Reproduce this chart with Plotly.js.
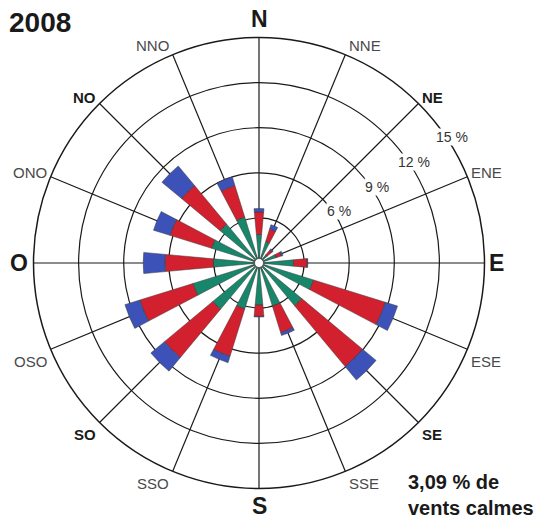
<!DOCTYPE html>
<html>
<head>
<meta charset="utf-8">
<script src="https://cdn.plot.ly/plotly-3.0.1.min.js"></script>
<style>html,body{margin:0;padding:0;background:#fff;}#chart{width:545px;height:521px;}</style>
</head>
<body>
<div id="chart"></div>
<script>
// ---- data (percent of time, per wind direction, stacked by speed class) ----
const directions = ['N','NNE','NE','ENE','E','ESE','SE','SSE','S','SSO','SO','OSO','O','ONO','NO','NNO'];
const greenVals = [1.9, 1.5, 0.7, 1.2, 2.3, 3.8, 3.7, 3.0, 2.8, 3.2, 4.0, 4.6, 3.04, 3.3, 3.36, 3.2];
const redVals   = [1.5, 0.87, 0.43, 0.35, 0.9, 5.0, 5.26, 1.85, 0.75, 3.3, 4.18, 3.7, 3.21, 2.9, 3.34, 2.2];
const blueVals  = [0.23, 0.3, 0.1, 0.12, 0.05, 0.85, 1.17, 0.2, 0.05, 0.44, 1.18, 1.04, 1.45, 1.15, 1.7, 0.6];
const ringValues = [3, 6, 9, 12, 15];
const ringLabels = ['', '6 %', '9 %', '12 %', '15 %'];
const yearLabel = '2008';
const calmText = '3,09 % de<br>vents calmes';
const cardinal = ['N','E','S','O'];
const intercardinal = ['NE','SE','SO','NO'];

// ---- geometry ----
const W = 545, H = 521;
const CX = 259, CY = 263, R = 225.5, RMAX = 15;
const step = 360 / directions.length;
const theta = directions.map((d, i) => i * step);
const FONT = 'Liberation Sans, Arial, sans-serif';

function trace(vals, color, name) {
  return {
    type: 'barpolar', name: name, r: vals, theta: theta, width: 10.5,
    marker: {color: color, line: {color: '#3a3a3a', width: 0.5}},
    hoverinfo: 'skip'
  };
}
const data = [
  trace(greenVals, '#17866b', 'g'),
  trace(redVals, '#d2202e', 'r'),
  trace(blueVals, '#3c52b8', 'b')
];

const px = x => x / W, py = y => 1 - y / H;
const annotations = [];
// direction labels
directions.forEach((d, i) => {
  const a = theta[i] * Math.PI / 180;
  const s = Math.sin(a), c = Math.cos(a);
  const ex = CX + R * s, ey = CY - R * c;
  const isCard = cardinal.includes(d), isInter = intercardinal.includes(d);
  const gap = isCard ? 4 : 2;
  let xa = 'center', ya = 'middle', xs = 0, ys = 0;
  if (s > 0.01) { xa = 'left'; xs = isCard ? 2 : gap; } else if (s < -0.01) { xa = 'right'; xs = -gap; }
  if (c > 0.01) { ya = 'bottom'; ys = isCard ? gap : 2 - 9 * Math.abs(s); }
  else if (c < -0.01) { ya = 'top'; ys = isCard ? -2 : -gap; }
  annotations.push({
    xref: 'paper', yref: 'paper', x: px(ex), y: py(ey), xanchor: xa, yanchor: ya,
    xshift: xs, yshift: ys, showarrow: false,
    text: (isCard || isInter) ? '<b>' + d + '</b>' : d,
    font: {family: FONT, size: isCard ? 23 : 15, color: (isCard || isInter) ? '#1a1a1a' : '#4a4a4a'}
  });
});
// ring labels
const labAng = 57 * Math.PI / 180;
ringValues.forEach((v, i) => {
  if (!ringLabels[i]) return;
  const rr = v * R / RMAX + 5;
  annotations.push({
    xref: 'paper', yref: 'paper', x: px(CX + rr * Math.sin(labAng)), y: py(CY - rr * Math.cos(labAng)),
    xanchor: 'center', yanchor: 'middle', showarrow: false, text: ringLabels[i],
    bgcolor: '#ffffff', borderpad: 0,
    font: {family: FONT, size: 14, color: '#333333'}
  });
});
annotations.push({
  xref: 'paper', yref: 'paper', x: px(7), y: py(22.5), xanchor: 'left', yanchor: 'middle',
  showarrow: false, text: '<b>' + yearLabel + '</b>', font: {family: FONT, size: 28, color: '#1a1a1a'}
});
annotations.push({
  xref: 'paper', yref: 'paper', x: px(406), y: py(495), xanchor: 'left', yanchor: 'middle', align: 'left',
  showarrow: false, text: '<b>' + calmText + '</b>', font: {family: FONT, size: 20, color: '#1a1a1a'}
});

const layout = {
  width: W, height: H, margin: {l: 0, r: 0, t: 0, b: 0},
  paper_bgcolor: '#ffffff', showlegend: false,
  polar: {
    domain: {x: [px(CX - R), px(CX + R)], y: [py(CY + R), py(CY - R)]},
    bgcolor: '#ffffff', barmode: 'stack', hole: 0,
    angularaxis: {
      rotation: 90, direction: 'clockwise', tickmode: 'linear', tick0: 0, dtick: step,
      showticklabels: false, ticks: '', showgrid: true, gridcolor: '#1a1a1a', gridwidth: 1.2,
      showline: true, linecolor: '#1a1a1a', linewidth: 1.5, layer: 'below traces'
    },
    radialaxis: {
      range: [0, RMAX], tickvals: ringValues, showticklabels: false, ticks: '',
      showgrid: true, gridcolor: '#1a1a1a', gridwidth: 1.2, showline: false, layer: 'below traces'
    }
  },
  shapes: [{
    type: 'circle', xref: 'paper', yref: 'paper',
    x0: px(CX - 4.5), x1: px(CX + 4.5), y0: py(CY + 4.5), y1: py(CY - 4.5),
    fillcolor: '#ffffff', line: {color: '#444', width: 0.8}, layer: 'above'
  }],
  annotations: annotations
};
Plotly.newPlot('chart', data, layout, {displayModeBar: false, staticPlot: true});
</script>
</body>
</html>
